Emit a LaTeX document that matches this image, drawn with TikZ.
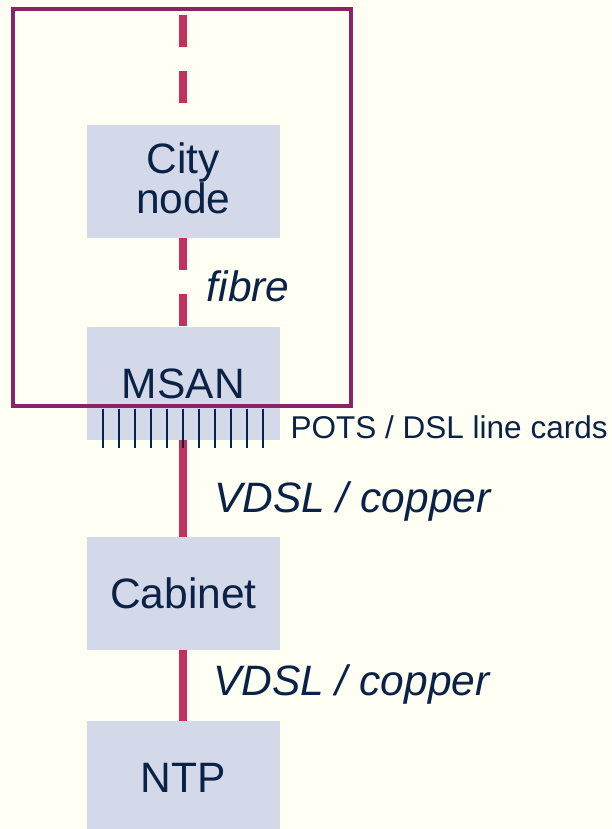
\documentclass[tikz,border=0pt]{standalone}
\usepackage{fontspec}
\setmainfont{Liberation Sans}
\usetikzlibrary{positioning}
\definecolor{bgcream}{HTML}{FFFFF3}
\definecolor{boxgrey}{HTML}{D3D9E8}
\definecolor{navy}{HTML}{0B2247}
\definecolor{crimson}{HTML}{C4305E}
\definecolor{plum}{HTML}{8A2468}

\begin{document}
\begin{tikzpicture}[x=1pt, y=-1pt,
    box/.style={fill=boxgrey, text=navy, minimum width=193pt, minimum height=113pt,
      inner sep=0pt, align=center, font=\fontsize{42.5}{40}\selectfont},
    lbl/.style={anchor=base west, text=navy, inner sep=0pt, font=\fontsize{42.5}{40}\selectfont\itshape},
    link/.style={crimson, line width=7.7pt},
    fibrelink/.style={link, dash pattern=on 32pt off 24pt}]
    \fill[bgcream] (0,0) rectangle (612,829);
    \useasboundingbox (0,0) rectangle (612,829);
    % boxes
    \node[box, text depth=7pt] (city) at (183.3,181.4) {City\\node};
    \node[box] (msan) at (183.3,383.5) {MSAN};
    \node[box] (cab) at (183.3,593.4) {Cabinet};
    \node[box] (ntp) at (183.3,777.5) {NTP};
    % links
    \coordinate (core) at (183.3,15);
    \draw[fibrelink] (core) -- (city.north);
    \draw[fibrelink] (city.south) -- (msan.north);
    \draw[link] (msan.south) -- (cab.north);
    \draw[link] (cab.south) -- (ntp.north);
    \node[lbl] (fibre) at (206.7,301.7) {fibre};
    \node[lbl] (vdslA) at (214,512.3) {VDSL / copper};
    \node[lbl] (vdslB) at (213,695.7) {VDSL / copper};
    % exchange frame
    \draw[plum, line width=4pt] (13,9.2) rectangle (350.7,406.3);
    % line cards
    \foreach \i in {0,...,10}
      \draw[navy, line width=1.7pt] (102.7+16*\i,409.3) -- ++(0,39);
    \node[anchor=base west, text=navy, inner sep=0pt, font=\fontsize{31.5}{31.5}\selectfont]
      (cards) at (290.5,438.3) {POTS / DSL line cards};
\end{tikzpicture}
\end{document}
